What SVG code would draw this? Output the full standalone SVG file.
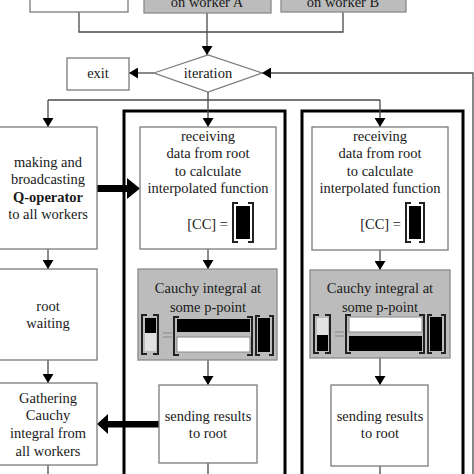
<svg xmlns="http://www.w3.org/2000/svg" width="474" height="474" viewBox="0 0 474 474">
<style>
.box{fill:#fff;stroke:#7a7a7a;stroke-width:1.3}
.gbox{fill:#bcbcbc;stroke:#8a8a8a;stroke-width:1.3}
.outer{fill:none;stroke:#000;stroke-width:3}
.t{font-family:"Liberation Serif","Times New Roman",serif;font-size:14.5px;fill:#1a1a1a;text-anchor:middle}
.b{font-weight:bold}
.c{fill:none;stroke:#4a4a4a;stroke-width:1.3}
.br{fill:none;stroke:#222;stroke-width:2}
.blk{fill:#000}
</style>
<defs>
<marker id="ah" viewBox="0 0 10 10" markerWidth="9" markerHeight="11" refX="10" refY="5" orient="auto" markerUnits="userSpaceOnUse" preserveAspectRatio="none">
<path d="M0,0 L10,5 L0,10 z" fill="#000"/>
</marker>
</defs>

<g id="outerA"><rect class="outer" x="124" y="111" width="161" height="380"/></g>
<g id="outerB"><rect class="outer" x="302" y="111" width="161" height="380"/></g>

<g id="connectors">
<path class="c" d="M79,12 V32 H343 V12"/>
<path class="c" d="M207,13 V55" marker-end="url(#ah)"/>
<path class="c" d="M154,73 H129" marker-end="url(#ah)"/>
<path class="c" d="M473,474 V73 H262" marker-end="url(#ah)"/>
<path class="c" d="M208,92 V127" marker-end="url(#ah)"/>
<path class="c" d="M48,100 H380"/>
<path class="c" d="M48,100 V127" marker-end="url(#ah)"/>
<path class="c" d="M380,100 V127" marker-end="url(#ah)"/>
<path class="c" d="M48,249 V269" marker-end="url(#ah)"/>
<path class="c" d="M48,360 V383" marker-end="url(#ah)"/>
<path class="c" d="M48,465 V474"/>
<path class="c" d="M208,249 V269" marker-end="url(#ah)"/>
<path class="c" d="M380,250 V270" marker-end="url(#ah)"/>
<path class="c" d="M208,360 V385" marker-end="url(#ah)"/>
<path class="c" d="M380,358 V385" marker-end="url(#ah)"/>
<path class="c" d="M208,463 V474"/>
<path class="c" d="M380,466 V474"/>
<g id="thick1"><rect class="blk" x="97" y="185" width="31" height="7"/><path class="blk" d="M127,178 L140,188.5 L127,199 z"/></g>
<g id="thick2"><rect class="blk" x="107" y="421" width="52" height="6.5"/><path class="blk" d="M108,414 L97,424 L108,434 z"/></g>
</g>

<g id="top1"><rect class="box" x="30" y="-20" width="98" height="32"/></g>
<g id="top2"><rect class="gbox" x="144" y="-20" width="127" height="33"/><text class="t" x="207" y="7">on worker A</text></g>
<g id="top3"><rect class="gbox" x="281" y="-20" width="125" height="32"/><text class="t" x="343" y="7">on worker B</text></g>

<g id="iteration"><path d="M154,73 L208,55 L262,73 L208,92 z" fill="#fff" stroke="#7a7a7a" stroke-width="1.3"/><text class="t" x="208" y="78">iteration</text></g>
<g id="exit"><rect class="box" x="67" y="58" width="62" height="32"/><text class="t" x="98" y="78">exit</text></g>

<g id="making"><rect class="box" x="-1" y="127" width="98" height="122"/>
<text class="t" x="48" y="167">making and</text>
<text class="t" x="48" y="184">broadcasting</text>
<text class="t b" x="48" y="202">Q-operator</text>
<text class="t" x="48" y="219">to all workers</text></g>

<g id="rootwait"><rect class="box" x="-1" y="269" width="98" height="91"/>
<text class="t" x="48" y="311">root</text>
<text class="t" x="48" y="328">waiting</text></g>

<g id="gather"><rect class="box" x="-1" y="383" width="98" height="82"/>
<text class="t" x="48" y="403">Gathering</text>
<text class="t" x="48" y="420">Cauchy</text>
<text class="t" x="48" y="438">integral from</text>
<text class="t" x="48" y="456">all workers</text></g>

<g id="recvA"><rect class="box" x="140" y="127" width="136" height="122"/>
<text class="t" x="208" y="141">receiving</text>
<text class="t" x="208" y="158">data from root</text>
<text class="t" x="208" y="176">to calculate</text>
<text class="t" x="208" y="193">interpolated function</text>
<text class="t" x="208" y="229" style="text-anchor:end" dx="20">[CC] =</text>
<path class="br" d="M238,203 H233 V242 H238 M248,203 H253 V242 H248"/>
<rect class="blk" x="236" y="206" width="14" height="33"/></g>

<g id="recvB"><rect class="box" x="312" y="127" width="136" height="123"/>
<text class="t" x="380" y="141">receiving</text>
<text class="t" x="380" y="158">data from root</text>
<text class="t" x="380" y="176">to calculate</text>
<text class="t" x="380" y="193">interpolated function</text>
<text class="t" x="401" y="229" style="text-anchor:end">[CC] =</text>
<path class="br" d="M411,203 H406 V242 H411 M419,203 H424 V242 H419"/>
<rect class="blk" x="409" y="206" width="12" height="33"/></g>

<g id="cauchyA"><rect class="gbox" x="138" y="269" width="139" height="91"/>
<text class="t" x="208" y="293">Cauchy integral at</text>
<text class="t" x="208" y="312">some p-point</text>
<rect x="145" y="318" width="11" height="33" fill="#e2e2e2"/>
<rect class="blk" x="145" y="318" width="11" height="15"/>
<path class="br" d="M147,315 H142 V354 H147 M153,315 H158 V354 H153"/>
<path d="M163,333 H172 M163,337 H172" stroke="#888" stroke-width="1.2"/>
<rect x="177" y="337" width="73" height="15" fill="#fff" stroke="#888"/>
<rect class="blk" x="177" y="319" width="73" height="13"/>
<path class="br" d="M179,317 H174 V355 H179 M247,317 H252 V355 H247"/>
<rect class="blk" x="258" y="318" width="12" height="34"/>
<path class="br" d="M260,316 H256 V355 H260 M269,316 H273 V355 H269"/></g>

<g id="cauchyB"><rect class="gbox" x="310" y="270" width="140" height="88"/>
<text class="t" x="380" y="293">Cauchy integral at</text>
<text class="t" x="380" y="312">some p-point</text>
<rect x="317" y="318" width="11" height="33" fill="#e2e2e2"/>
<rect class="blk" x="317" y="335" width="11" height="16"/>
<path class="br" d="M319,315 H314 V353 H319 M325,315 H330 V353 H325"/>
<path d="M335,332 H344 M335,336 H344" stroke="#888" stroke-width="1.2"/>
<rect x="349" y="317" width="73" height="15" fill="#fff" stroke="#888"/>
<rect class="blk" x="349" y="336" width="73" height="15"/>
<path class="br" d="M351,315 H346 V353 H351 M419,315 H424 V353 H419"/>
<rect class="blk" x="430" y="317" width="12" height="34"/>
<path class="br" d="M432,315 H428 V353 H432 M441,315 H445 V353 H441"/></g>

<g id="sendA"><rect class="box" x="159" y="385" width="98" height="78"/>
<text class="t" x="208" y="421">sending results</text>
<text class="t" x="208" y="438">to root</text></g>

<g id="sendB"><rect class="box" x="331" y="385" width="97" height="81"/>
<text class="t" x="380" y="421">sending results</text>
<text class="t" x="380" y="438">to root</text></g>
</svg>
